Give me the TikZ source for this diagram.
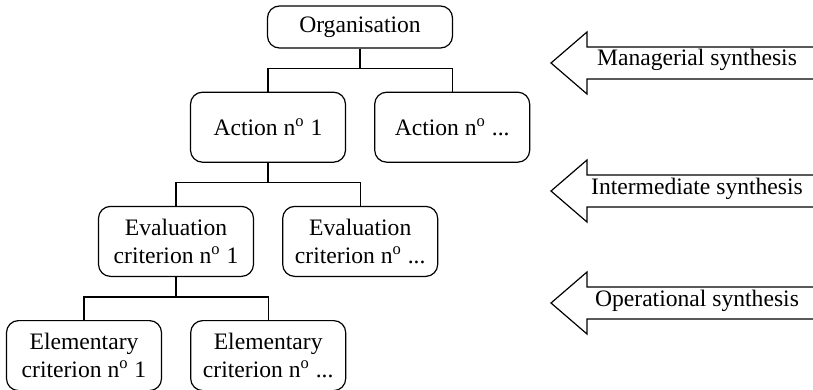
\documentclass[tikz,border=0pt]{standalone}
\usepackage{fontspec}
\setmainfont{Liberation Serif}
\usepackage{tikz}
\usetikzlibrary{positioning}

\begin{document}
\begin{tikzpicture}[x=0.5pt, y=-0.5pt, line width=0.6pt, node distance=21.5pt and 14pt,
  every node/.style={font=\fontsize{11.8pt}{14pt}\selectfont},
  b/.style={draw, rounded corners=6pt, align=center, inner sep=2pt, minimum width=77.5pt, minimum height=35pt},
  top/.style={b, minimum width=92.5pt, minimum height=21pt},
  syn/.style={line width=0.6pt, line join=miter},
  lbl/.style={anchor=base}]
  \useasboundingbox (0,0) rectangle (813,390);
  % hierarchy: organisation -> actions -> evaluation criteria -> elementary criteria
  \node[top] (org) at (360,27) {Organisation};
  \node[b, below=of org, xshift=-46pt] (act1) {Action n\textsuperscript{o} 1};
  \node[b, right=of act1] (actn) {Action n\textsuperscript{o} ...};
  \node[b, below=of act1, xshift=-46pt] (ev1) {Evaluation\\criterion n\textsuperscript{o} 1};
  \node[b, right=of ev1] (evn) {Evaluation\\criterion n\textsuperscript{o} ...};
  \node[b, below=of ev1, xshift=-46pt] (el1) {Elementary\\criterion n\textsuperscript{o} 1};
  \node[b, right=of el1] (eln) {Elementary\\criterion n\textsuperscript{o} ...};
  \draw (org.south) -- ++(0,-10pt) -| (act1.north);
  \draw (org.south) -- ++(0,-10pt) -| (actn.north);
  \draw (act1.south) -- ++(0,-10pt) -| (ev1.north);
  \draw (act1.south) -- ++(0,-10pt) -| (evn.north);
  \draw (ev1.south) -- ++(0,-10pt) -| (el1.north);
  \draw (ev1.south) -- ++(0,-10pt) -| (eln.north);
  % synthesis arrows on the right, open towards the page edge
  \node[lbl] (man) at (697,66) {Managerial synthesis};
  \draw[syn] (813,47) -- (587,47) -- (587,32) -- (551,63) -- (587,94) -- (587,79) -- (813,79);
  \node[lbl] (mid) at (697,194) {Intermediate synthesis};
  \draw[syn] (813,175) -- (587,175) -- (587,160) -- (551,191) -- (587,222) -- (587,207) -- (813,207);
  \node[lbl] (ope) at (697,306) {Operational synthesis};
  \draw[syn] (813,287) -- (587,287) -- (587,272) -- (551,303) -- (587,334) -- (587,319) -- (813,319);
\end{tikzpicture}
\end{document}
